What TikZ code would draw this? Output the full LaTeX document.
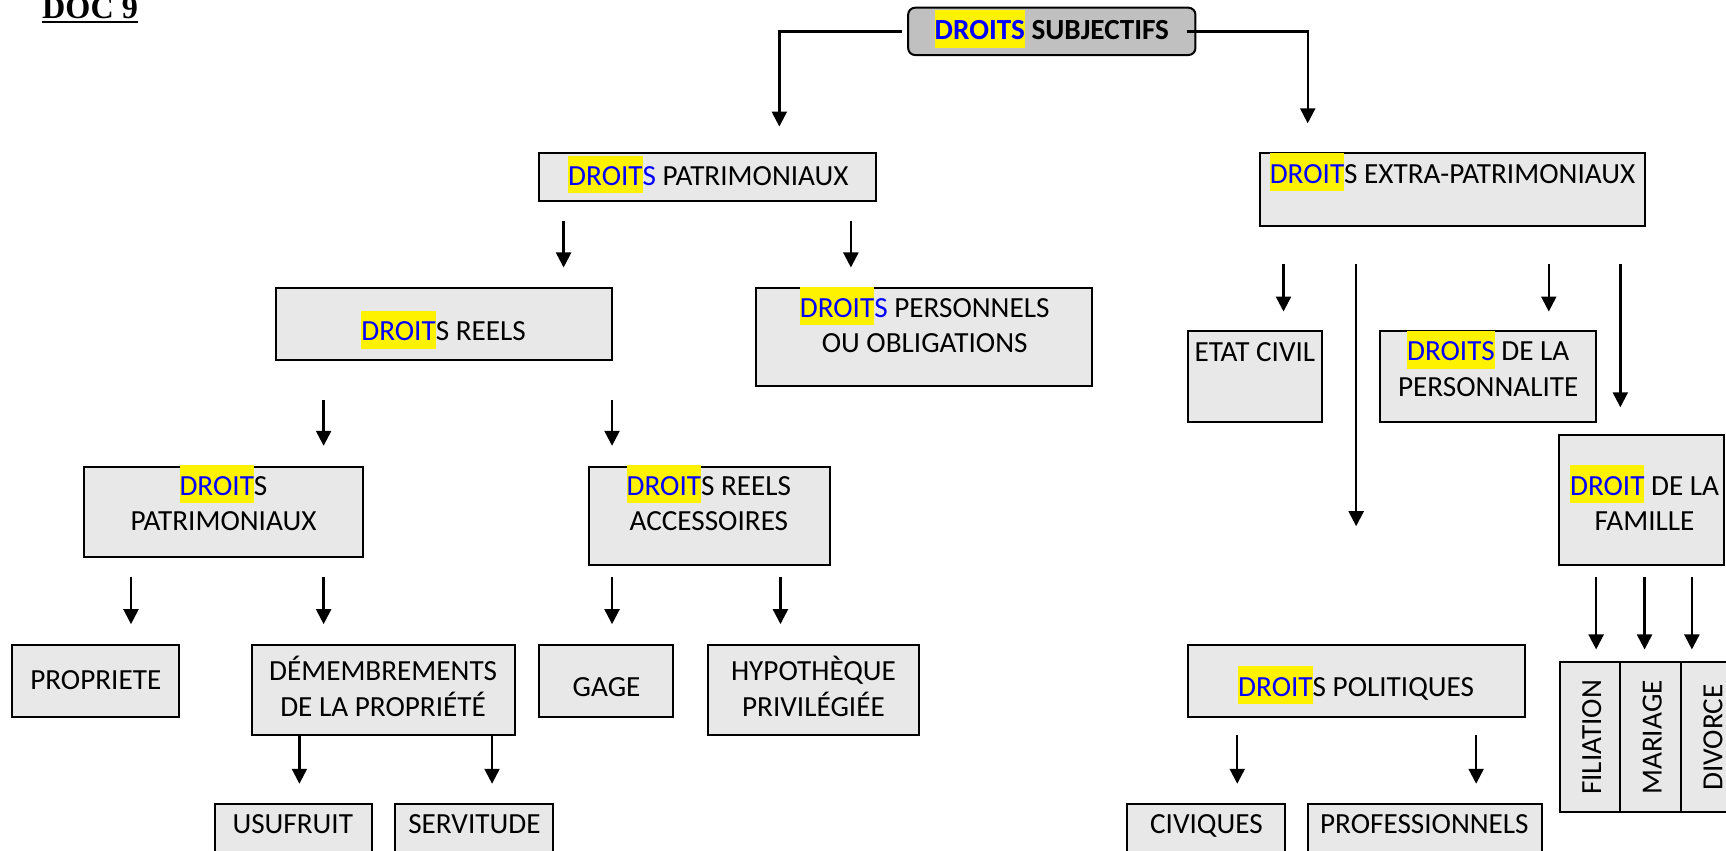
\documentclass[tikz,border=0pt]{standalone}
\usepackage{fontspec}
\setmainfont{Carlito}
\newfontfamily\docfont{Liberation Serif}
\usetikzlibrary{arrows.meta}

\definecolor{boxgray}{HTML}{E8E8E8}
\definecolor{topgray}{HTML}{C0C0C0}

% yellow highlight with blue letters, kept out of the line height
\newcommand\hlt[1]{\smash{\setlength\fboxsep{0pt}\colorbox{yellow}{\rule[-0.27em]{0pt}{1.3em}\textcolor{blue}{#1}}}}
\newcommand\bl[1]{\textcolor{blue}{#1}}
% thick underline for the heading
\newcommand\thickul[1]{\setbox0\hbox{#1}\rlap{\copy0}\rule[-2.4pt]{\wd0}{1.3pt}}
% box given by its corners: [style] x1 y1 x2 y2 name
\newcommand\cbox[6][]{%
  \node[box,#1,minimum width={(#4-#2)*0.5504pt},minimum height={(#5-#3)*0.5504pt}]
    (#6) at ({(#2+#4)/2},{(#3+#5)/2}) {};}

\begin{document}
\begin{tikzpicture}[x=0.5504pt,y=-0.5504pt,
  font=\fontsize{14.6}{17.6}\selectfont,
  box/.style={draw=black,line width=1pt,fill=boxgray,inner sep=0pt,outer sep=0pt},
  topbox/.style={fill=topgray,rounded corners=3.5pt},
  txt/.style={inner sep=0pt,align=center},
  one/.style={txt,text depth=0pt},
  vert/.style={one,rotate=90},
  arr/.style={line width=1.15pt,-{Triangle[width=7.5pt,length=7.5pt]}}]

\path[use as bounding box] (0,0) rectangle (1568,773);
\clip (0,0) rectangle (1568,773);

% heading
\node[anchor=base west,inner sep=0pt,font=\docfont\bfseries\fontsize{16.1}{19}\selectfont]
  (doc) at (38,16.8) {\thickul{DOC 9}};

% root
\cbox[topbox]{825}{7}{1086}{50}{root}
\node[one,font=\fontsize{14.6}{17.6}\selectfont\bfseries] (root-t) at (955.5,27.5) {\hlt{DROITS} SUBJECTIFS};

% second level
\cbox{490}{139}{796}{183}{pat}
\node[one] (pat-t) at (643.5,160) {\hlt{DROIT}\bl{S} PATRIMONIAUX};
\cbox{1145}{139}{1494}{205}{ext}
\node[one] (ext-t) at (1319.5,158) {\hlt{DROIT}S EXTRA-PATRIMONIAUX};

% third level
\cbox{251}{262}{556}{327}{reel}
\node[one] (reel-t) at (403,301) {\hlt{DROIT}S REELS};
\cbox{687}{262}{992}{351}{pers}
\node[txt] (pers-t) at (840,295.5) {\hlt{DROIT}\bl{S} PERSONNELS\\OU OBLIGATIONS};
\cbox{1079}{301}{1201}{383}{etat}
\node[one] (etat-t) at (1140,320) {ETAT CIVIL};
\cbox{1254}{301}{1450}{383}{persn}
\node[txt] (persn-t) at (1352,335.5) {\hlt{DROITS} DE LA\\PERSONNALITE};

% fourth level
\cbox{76}{424}{330}{506}{pat2}
\node[txt] (pat2-t) at (203,457.5) {\hlt{DROIT}S\\PATRIMONIAUX};
\cbox{535}{424}{754}{513}{acc}
\node[txt] (acc-t) at (644,457.5) {\hlt{DROIT}S REELS\\ACCESSOIRES};
\cbox{1416}{395}{1566}{513}{fam}
\node[txt] (fam-t) at (1494,457.5) {\hlt{DROIT} DE LA\\FAMILLE};

% fifth level
\cbox{11}{586}{163}{651}{prop}
\node[one] (prop-t) at (87,618) {PROPRIETE};
\cbox{229}{586}{468}{668}{dem}
\node[txt] (dem-t) at (348,623.5) {DÉMEMBREMENTS\\DE LA PROPRIÉTÉ};
\cbox{490}{586}{611}{651}{gage}
\node[one] (gage-t) at (551,624) {GAGE};
\cbox{643}{586}{835}{668}{hypo}
\node[txt] (hypo-t) at (739,623.5) {HYPOTHÈQUE\\PRIVILÉGIÉE};
\cbox{1079}{586}{1385}{651}{pol}
\node[one] (pol-t) at (1232,624) {\hlt{DROIT}S POLITIQUES};

% family branches
\cbox{1417}{601}{1472}{738}{fil}
\node[vert] (fil-t) at (1446,670) {FILIATION};
\cbox{1472}{601}{1527}{738}{mar}
\node[vert] (mar-t) at (1501,670) {MARIAGE};
\cbox{1527}{601}{1582}{738}{div}
\node[vert] (div-t) at (1556,670) {DIVORCE};

% last level
\cbox{195}{730}{338}{800}{usu}
\node[one] (usu-t) at (266,749) {USUFRUIT};
\cbox{359}{730}{502}{800}{serv}
\node[one] (serv-t) at (431,749) {SERVITUDE};
\cbox{1024}{730}{1167}{800}{civ}
\node[one] (civ-t) at (1096,749) {CIVIQUES};
\cbox{1188}{730}{1401}{800}{prof}
\node[one] (prof-t) at (1294,749) {PROFESSIONNELS};

% connectors from the root
\coordinate (pat-in) at (708,115);
\coordinate (ext-in) at (1188,112);
\draw[arr] ([xshift=-3.3pt]root.west) -| (pat-in);
\draw[arr] ([xshift=-4.4pt]root.east) -| (ext-in);

% free-standing downward arrows
\foreach \nm/\x/\ya/\yb in {
  pr/512/201/243, po/773/201/243,
  ec/1166/240/283, pl/1232/240/478, pe/1407/240/283, fa/1472/240/370,
  pp/294/363/405, ra/556/363/405,
  pt/119/524/567, dm/294/524/567,
  gg/556/524/567, hy/709/524/567,
  fi/1450/524/590, ma/1494/524/590, dv/1537/524/590,
  us/272/668/712, sv/447/668/712,
  cv/1124/668/712, pf/1341/668/712}
{
  \coordinate (\nm-a) at (\x,\ya);
  \coordinate (\nm-b) at (\x,\yb);
  \draw[arr] (\nm-a) -- (\nm-b);
}
\end{tikzpicture}
\end{document}
